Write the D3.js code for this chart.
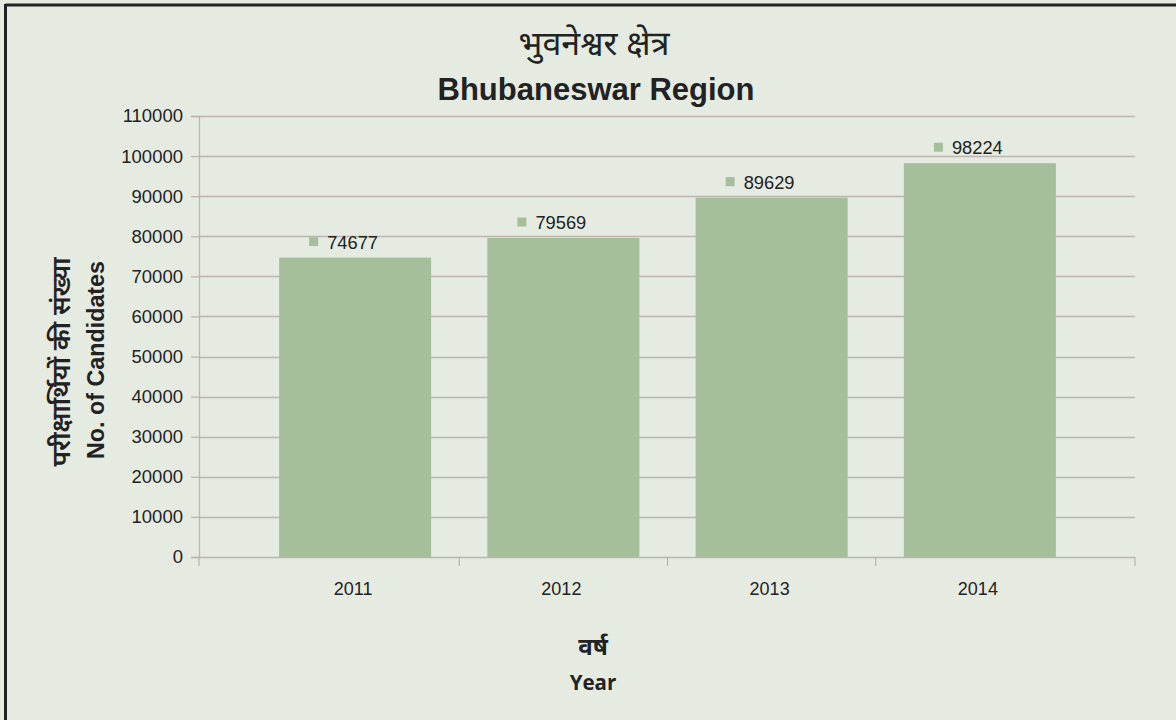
<!DOCTYPE html>
<html>
<head>
<meta charset="utf-8">
<script src="https://cdn.jsdelivr.net/npm/d3@7"></script>
<style>
  html, body { margin: 0; padding: 0; background: #e5ebe1; }
  svg { display: block; }
</style>
</head>
<body>
<svg id="chart" width="1176" height="720"></svg>
<script>
// Candidates per year, Bhubaneswar region
const years = ["2011", "2012", "2013", "2014"];
const candidates = [74677, 79569, 89629, 98224];
const yTicks = [0, 10000, 20000, 30000, 40000, 50000, 60000, 70000, 80000, 90000, 100000, 110000];

const titleHi = "भुवनेश्वर क्षेत्र";
const titleEn = "Bhubaneswar Region";
const yTitleHi = "परीक्षार्थियों की संख्या";
const yTitleEn = "No. of Candidates";
const xTitleHi = "वर्ष";
const xTitleEn = "Year";

const W = 1176, H = 720;
const plot = { left: 199, right: 1135, top: 116, bottom: 557 };
const gridColor = "#bdb4b0";
const barColor = "#a5bf9b";
const textColor = "#222";
const latin = "'Liberation Sans', Arial, sans-serif";
const deva = "'Noto Sans Devanagari', 'Noto Sans', 'Lohit Devanagari', sans-serif";

const svg = d3.select("#chart");

svg.append("rect").attr("width", W).attr("height", H).attr("fill", "#e5ebe1");

// frame: top and left edges
svg.append("line").attr("x1", 5.5).attr("x2", W).attr("y1", 5).attr("y2", 5)
  .attr("stroke", "#222").attr("stroke-width", 3);
svg.append("line").attr("x1", 5.5).attr("x2", 5.5).attr("y1", 4).attr("y2", H)
  .attr("stroke", "#222").attr("stroke-width", 3);

const y = d3.scaleLinear().domain([0, 110000]).range([plot.bottom, plot.top]);
const x = d3.scaleBand().domain(years).range([251, 1084]).paddingInner(0.27).paddingOuter(0.135);

// horizontal gridlines
svg.append("g").selectAll("line").data(yTicks.slice(1)).join("line")
  .attr("x1", plot.left).attr("x2", plot.right)
  .attr("y1", d => Math.round(y(d)) + 0.5).attr("y2", d => Math.round(y(d)) + 0.5)
  .attr("stroke", gridColor).attr("stroke-width", 1.3);

// y axis
const yAxis = svg.append("g").attr("transform", `translate(${plot.left},0)`)
  .call(d3.axisLeft(y).tickValues(yTicks).tickSize(8).tickPadding(8).tickFormat(d3.format("d")));
yAxis.select(".domain").attr("stroke", gridColor).attr("stroke-width", 1.3);
yAxis.selectAll(".tick line").attr("stroke", gridColor).attr("stroke-width", 1.3);
yAxis.selectAll(".tick text").attr("fill", textColor)
  .style("font-family", latin).style("font-size", "18.5px");

// bars
svg.append("g").selectAll("rect").data(candidates).join("rect")
  .attr("x", (d, i) => x(years[i]))
  .attr("width", x.bandwidth())
  .attr("y", d => y(d))
  .attr("height", d => y(0) - y(d))
  .attr("fill", barColor);

// x axis line with ticks at category boundaries and plot ends
const xBoundaries = [plot.left].concat(years.slice(1).map(yr => x(yr) - (x.step() - x.bandwidth()) / 2)).concat([plot.right]);
svg.append("line").attr("x1", plot.left).attr("x2", plot.right)
  .attr("y1", plot.bottom + 0.5).attr("y2", plot.bottom + 0.5)
  .attr("stroke", gridColor).attr("stroke-width", 1.3);
svg.append("g").selectAll("line").data(xBoundaries).join("line")
  .attr("x1", d => d).attr("x2", d => d)
  .attr("y1", plot.bottom).attr("y2", plot.bottom + 9)
  .attr("stroke", gridColor).attr("stroke-width", 1.3);

svg.append("g").selectAll("text").data(years).join("text")
  .attr("x", d => x(d) + x.bandwidth() / 2 - 2)
  .attr("y", 595)
  .attr("text-anchor", "middle")
  .attr("fill", textColor)
  .style("font-family", latin).style("font-size", "18px")
  .text(d => d);

// value labels with a small legend key
const labels = svg.append("g").selectAll("g").data(candidates).join("g")
  .attr("transform", (d, i) => `translate(${x(years[i]) + x.bandwidth() / 2 - 46},${y(d) - 16})`);
labels.append("rect").attr("x", 0).attr("y", -4.5).attr("width", 9).attr("height", 9).attr("fill", barColor);
labels.append("text").attr("x", 18).attr("y", 7)
  .attr("fill", textColor)
  .style("font-family", latin).style("font-size", "18.3px")
  .text(d => d);

// titles
svg.append("text").attr("x", 594).attr("y", 55).attr("text-anchor", "middle")
  .attr("fill", textColor).style("font-family", deva).style("font-size", "34px")
  .text(titleHi);
svg.append("text").attr("x", 596).attr("y", 100).attr("text-anchor", "middle")
  .attr("fill", textColor).style("font-family", latin).style("font-size", "31px").style("font-weight", "bold")
  .text(titleEn);

// y axis titles
svg.append("text").attr("transform", "translate(70,362) rotate(-90)").attr("text-anchor", "middle")
  .attr("fill", textColor).style("font-family", deva).style("font-size", "26px").style("font-weight", "600")
  .text(yTitleHi);
svg.append("text").attr("transform", "translate(104,360) rotate(-90)").attr("text-anchor", "middle")
  .attr("fill", textColor).style("font-family", latin).style("font-size", "23.3px").style("font-weight", "bold")
  .text(yTitleEn);

// x axis titles
svg.append("text").attr("x", 593).attr("y", 655).attr("text-anchor", "middle")
  .attr("fill", textColor).style("font-family", deva).style("font-size", "24px").style("font-weight", "bold")
  .text(xTitleHi);
svg.append("text").attr("x", 593).attr("y", 690).attr("text-anchor", "middle")
  .attr("fill", textColor).style("font-family", "'Open Sans', sans-serif").style("font-size", "20.5px").style("font-weight", "bold")
  .text(xTitleEn);
</script>
</body>
</html>
